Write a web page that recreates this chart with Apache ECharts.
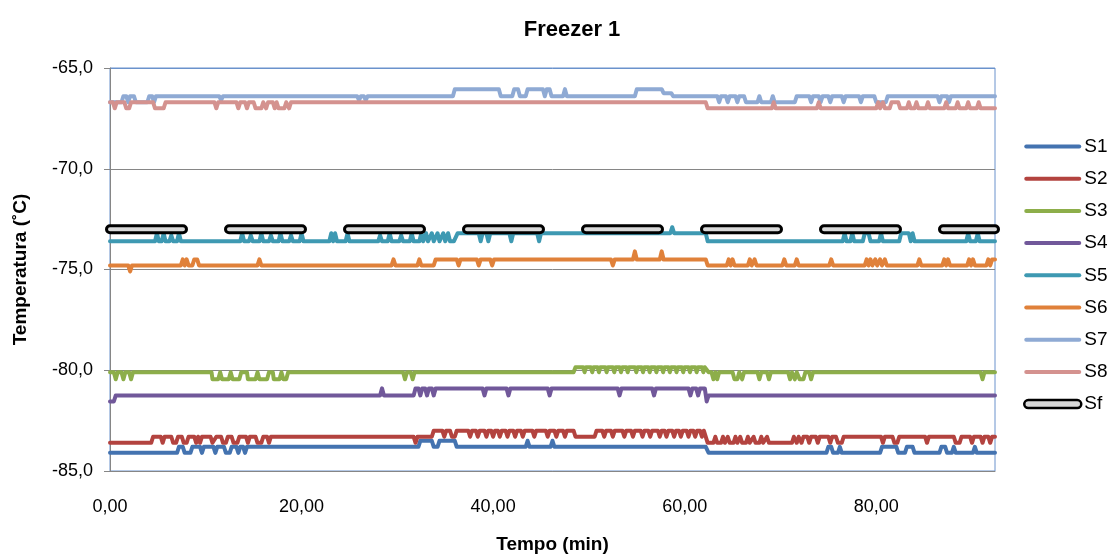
<!DOCTYPE html>
<html><head><meta charset="utf-8">
<script src="https://cdn.jsdelivr.net/npm/echarts@6/dist/echarts.min.js"></script>
<style>html,body{margin:0;padding:0;background:#fff}#c{width:1110px;height:559px}</style>
</head><body><div id="c"></div>
<script>
// ---- data (time in min, temperature in °C) ----
const seriesNames = ['S1','S2','S3','S4','S5','S6','S7','S8','Sf'];
const xTicks = [0,20,40,60,80];
const yTicks = [-85,-80,-75,-70,-65];

const S1 = [[0,-84.1],[7.0,-84.1],[7.2,-83.8],[7.6,-83.8],[7.8,-84.1],[8.4,-84.1],[8.6,-83.8],[9.4,-83.8],[9.6,-84.1],[9.8,-83.8],[10.8,-83.8],[11.0,-84.1],[11.2,-83.8],[11.9,-83.8],[12.1,-84.1],[12.5,-84.1],[12.7,-83.8],[13.2,-83.8],[13.4,-84.1],[13.6,-83.8],[13.9,-83.8],[14.1,-84.1],[14.3,-83.8],
[32.2,-83.8],[32.4,-83.5],[33.6,-83.5],[33.8,-83.8],[34.2,-83.8],[34.4,-83.5],[36.0,-83.5],[36.2,-83.8],[43.4,-83.8],[43.6,-83.5],[43.8,-83.8],[46.0,-83.8],[46.2,-83.5],[46.4,-83.8],[62.2,-83.8],[62.5,-84.1],
[74.8,-84.1],[75.0,-83.8],[75.3,-83.8],[75.5,-84.1],[76.0,-84.1],[76.2,-83.8],[76.4,-84.1],[80.4,-84.1],[80.6,-83.8],[82.1,-83.8],[82.3,-84.1],[83.0,-84.1],[83.2,-83.8],[83.8,-83.8],[84.0,-84.1],[86.6,-84.1],[86.8,-83.8],[87.2,-83.8],[87.4,-84.1],[87.9,-84.1],[88.1,-83.8],[88.3,-84.1],[90.1,-84.1],[90.3,-83.8],[90.5,-84.1],[92.4,-84.1]];

const S2 = [[0,-83.6],[4.3,-83.6],[4.5,-83.3],[5.3,-83.3],[5.5,-83.6],[5.7,-83.3],[6.4,-83.3],[6.6,-83.6],[6.9,-83.6],[7.1,-83.3],[7.5,-83.3],[7.7,-83.6],[8.0,-83.6],[8.2,-83.3],[8.8,-83.3],[9.0,-83.6],[9.2,-83.3],[9.4,-83.6],[9.6,-83.3],[10.5,-83.3],[10.7,-83.6],[10.9,-83.6],[11.1,-83.3],[11.6,-83.3],[11.8,-83.6],[12.1,-83.6],[12.3,-83.3],[12.7,-83.3],[12.9,-83.6],[13.3,-83.6],[13.5,-83.3],[14.2,-83.3],[14.4,-83.6],[14.6,-83.3],[15.2,-83.3],[15.4,-83.6],[15.8,-83.6],[16.0,-83.3],[16.4,-83.3],[16.6,-83.6],[16.8,-83.3],
[31.7,-83.3],[31.9,-83.6],[32.1,-83.3],[33.6,-83.3],[33.8,-83.0],[34.7,-83.0],[34.9,-83.3],[35.1,-83.0],[35.5,-83.0],[35.7,-83.3],[36.0,-83.3],[36.2,-83.0],[37.4,-83.0],[37.6,-83.3],[37.8,-83.0],[38.2,-83.0],[38.4,-83.3],[38.6,-83.0],[39.1,-83.0],[39.3,-83.3],[39.5,-83.0],[39.8,-83.0],[40.0,-83.3],[40.2,-83.0],[40.5,-83.0],[40.7,-83.3],[40.9,-83.0],[41.3,-83.0],[41.5,-83.3],[41.7,-83.0],[42.1,-83.0],[42.3,-83.3],[42.5,-83.0],[42.9,-83.0],[43.1,-83.3],[43.3,-83.0],[44.1,-83.0],[44.3,-83.3],[44.5,-83.0],[45.5,-83.0],[45.7,-83.3],[45.9,-83.0],[46.4,-83.0],[46.6,-83.3],[46.8,-83.0],[47.3,-83.0],[47.5,-83.3],[47.7,-83.0],[48.4,-83.0],[48.6,-83.3],[50.6,-83.3],[50.8,-83.0],[51.4,-83.0],[51.6,-83.3],[51.8,-83.0],[52.3,-83.0],[52.5,-83.3],[52.7,-83.0],[53.5,-83.0],[53.7,-83.3],[53.9,-83.0],[54.4,-83.0],[54.6,-83.3],[54.8,-83.0],[55.4,-83.0],[55.6,-83.3],[55.8,-83.0],[56.2,-83.0],[56.4,-83.3],[56.6,-83.0],[57.2,-83.0],[57.4,-83.3],[57.6,-83.0],[57.9,-83.0],[58.1,-83.3],[58.3,-83.0],[58.7,-83.0],[58.9,-83.3],[59.1,-83.0],[59.4,-83.0],[59.6,-83.3],[59.8,-83.0],[60.2,-83.0],[60.4,-83.3],[60.6,-83.0],[60.9,-83.0],[61.1,-83.3],[61.3,-83.0],[61.6,-83.0],[61.8,-83.3],[62.0,-83.0],[62.2,-83.0],[62.4,-83.6],
[63.0,-83.6],[63.2,-83.3],[63.4,-83.6],[63.8,-83.6],[64.0,-83.3],[64.2,-83.6],[64.5,-83.3],[64.7,-83.6],[65.1,-83.6],[65.3,-83.3],[65.5,-83.6],[65.8,-83.3],[66.0,-83.6],[66.4,-83.6],[66.6,-83.3],[66.8,-83.6],[67.2,-83.3],[67.4,-83.6],[67.8,-83.6],[68.0,-83.3],[68.2,-83.6],[68.6,-83.3],[68.8,-83.6],[71.2,-83.6],[71.4,-83.3],[71.7,-83.6],[71.9,-83.3],[72.2,-83.6],[72.4,-83.3],[72.8,-83.3],[73.0,-83.6],[73.2,-83.3],[73.7,-83.3],[73.9,-83.6],[74.1,-83.3],[75.0,-83.3],[75.2,-83.6],[75.4,-83.3],[75.8,-83.3],[76.0,-83.6],[76.4,-83.6],[76.6,-83.3],[80.5,-83.3],[80.7,-83.6],[80.9,-83.3],[81.7,-83.3],[81.9,-83.6],[82.2,-83.6],[82.4,-83.3],[85.1,-83.3],[85.3,-83.6],[85.5,-83.3],[88.1,-83.3],[88.3,-83.6],[88.7,-83.6],[88.9,-83.3],[89.8,-83.3],[90.0,-83.6],[90.2,-83.3],[90.9,-83.3],[91.1,-83.6],[91.3,-83.3],[91.7,-83.3],[91.9,-83.6],[92.1,-83.3],[92.4,-83.3]];

const S3 = [[0,-80.1],[0.4,-80.1],[0.6,-80.45],[0.8,-80.1],[1.2,-80.1],[1.4,-80.45],[1.6,-80.1],[2.0,-80.1],[2.2,-80.45],[2.4,-80.1],
[10.6,-80.1],[10.7,-80.45],[11.3,-80.45],[11.5,-80.1],[11.7,-80.45],[12.4,-80.45],[12.6,-80.1],[12.8,-80.45],[13.5,-80.45],[13.7,-80.1],[14.3,-80.1],[14.4,-80.45],[15.2,-80.45],[15.4,-80.1],[15.6,-80.45],[16.4,-80.45],[16.6,-80.1],[17.0,-80.1],[17.1,-80.45],[17.7,-80.45],[17.9,-80.1],[18.1,-80.45],[18.4,-80.45],[18.6,-80.1],
[30.6,-80.1],[30.8,-80.45],[31.0,-80.1],[31.4,-80.1],[31.6,-80.45],[31.8,-80.1],
[48.4,-80.1],[48.6,-79.85],[49.4,-79.85],[49.55,-80.1],[49.7,-79.85],[50.2,-79.85],[50.35,-80.1],[50.5,-79.85],[50.9,-79.85],[51.05,-80.1],[51.2,-79.85],[51.7,-79.85],[51.85,-80.1],[52.0,-79.85],[52.5,-79.85],[52.65,-80.1],[52.8,-79.85],[53.2,-79.85],[53.35,-80.1],[53.5,-79.85],[53.9,-79.85],[54.05,-80.1],[54.2,-79.85],[54.8,-79.85],[54.95,-80.1],[55.1,-79.85],[55.5,-79.85],[55.65,-80.1],[55.8,-79.85],[56.2,-79.85],[56.35,-80.1],[56.5,-79.85],[56.9,-79.85],[57.05,-80.1],[57.2,-79.85],[57.6,-79.85],[57.75,-80.1],[57.9,-79.85],[58.3,-79.85],[58.45,-80.1],[58.6,-79.85],[59.0,-79.85],[59.15,-80.1],[59.3,-79.85],[59.7,-79.85],[59.85,-80.1],[60.0,-79.85],[60.4,-79.85],[60.55,-80.1],[60.7,-79.85],[61.1,-79.85],[61.25,-80.1],[61.4,-79.85],[61.8,-79.85],[61.95,-80.1],[62.1,-79.85],
[62.3,-79.85],[62.5,-80.1],[62.8,-80.1],[63.0,-80.45],[63.2,-80.1],[63.4,-80.45],[63.6,-80.1],[65.0,-80.1],[65.2,-80.45],[65.5,-80.45],[65.7,-80.1],[66.0,-80.45],[66.2,-80.1],[67.6,-80.1],[67.8,-80.45],[68.0,-80.1],[68.6,-80.1],[68.8,-80.45],[69.0,-80.1],[70.8,-80.1],[71.0,-80.45],[71.2,-80.1],[71.5,-80.45],[71.7,-80.1],[72.0,-80.45],[72.4,-80.45],[72.6,-80.1],[73.0,-80.1],[73.2,-80.45],[73.4,-80.1],[90.9,-80.1],[91.1,-80.45],[91.3,-80.1],[92.4,-80.1]];

const S4 = [[0,-81.55],[0.4,-81.55],[0.6,-81.25],[28.2,-81.25],[28.4,-80.9],[28.6,-81.25],[31.7,-81.25],[31.9,-80.9],[32.2,-80.9],[32.4,-81.25],[32.6,-80.9],[32.9,-80.9],[33.1,-81.25],[33.3,-80.9],[33.6,-80.9],[33.8,-81.25],[34.0,-80.9],[38.9,-80.9],[39.1,-81.25],[39.3,-80.9],[41.4,-80.9],[41.6,-81.25],[41.8,-80.9],[45.7,-80.9],[45.9,-81.25],[46.1,-80.9],[53.0,-80.9],[53.2,-81.25],[53.4,-80.9],[56.6,-80.9],[56.8,-81.25],[57.0,-80.9],[60.4,-80.9],[60.6,-81.25],[60.8,-80.9],[61.2,-80.9],[61.4,-81.25],[61.6,-80.9],[62.1,-80.9],[62.3,-81.55],[62.5,-81.25],[92.4,-81.25]];

const S5 = [[0,-73.6],[4.7,-73.6],[4.9,-73.2],[5.1,-73.6],[5.4,-73.6],[5.6,-73.2],[5.8,-73.6],[6.2,-73.6],[6.4,-73.3],[6.6,-73.6],[7.0,-73.6],[7.2,-73.2],[7.4,-73.6],[13.6,-73.6],[13.8,-73.2],[14.0,-73.6],[14.5,-73.6],[14.7,-73.3],[14.9,-73.6],[15.6,-73.6],[15.8,-73.2],[16.0,-73.6],[16.6,-73.6],[16.8,-73.3],[17.0,-73.6],[17.6,-73.6],[17.8,-73.2],[18.0,-73.6],[18.7,-73.6],[18.9,-73.3],[19.1,-73.6],[19.8,-73.6],[20.0,-73.2],[20.2,-73.6],[22.9,-73.6],[23.1,-73.2],[23.3,-73.6],[23.5,-73.2],[23.7,-73.6],[24.6,-73.6],[24.8,-73.2],[25.0,-73.6],[28.0,-73.6],[28.2,-73.3],[28.4,-73.6],[29.0,-73.6],[29.2,-73.2],[29.4,-73.6],[30.2,-73.6],[30.4,-73.3],[30.6,-73.6],[31.3,-73.6],[31.5,-73.2],[31.7,-73.6],[32.3,-73.6],[32.5,-73.2],[32.7,-73.6],[33.0,-73.2],[33.2,-73.6],[33.6,-73.2],[33.8,-73.6],[34.2,-73.2],[34.4,-73.6],[34.8,-73.2],[35.0,-73.6],[35.3,-73.2],[35.5,-73.6],[35.9,-73.6],[36.3,-73.2],[38.5,-73.2],[38.7,-73.6],[38.9,-73.2],[39.3,-73.2],[39.5,-73.6],[39.7,-73.2],[41.7,-73.2],[41.9,-73.6],[42.1,-73.2],[44.6,-73.2],[44.8,-73.6],[45.0,-73.2],[58.5,-73.2],[58.7,-72.9],[58.9,-73.2],[62.2,-73.2],[62.4,-73.6],[76.5,-73.6],[76.7,-73.2],[76.9,-73.6],[77.3,-73.6],[77.5,-73.2],[77.7,-73.6],[78.6,-73.6],[78.8,-73.2],[79.2,-73.2],[79.4,-73.6],[80.3,-73.6],[80.5,-73.2],[80.7,-73.6],[82.4,-73.6],[82.6,-73.2],[83.4,-73.2],[83.6,-73.6],[83.8,-73.2],[84.0,-73.6],[89.4,-73.6],[89.6,-73.2],[89.8,-73.6],[90.4,-73.6],[90.6,-73.2],[90.8,-73.6],[92.4,-73.6]];

const S6 = [[0,-74.8],[1.9,-74.8],[2.1,-75.1],[2.3,-74.8],[7.4,-74.8],[7.6,-74.5],[7.8,-74.8],[8.0,-74.5],[8.2,-74.8],[8.6,-74.8],[8.8,-74.5],[9.1,-74.5],[9.3,-74.8],[15.4,-74.8],[15.6,-74.5],[15.8,-74.8],[29.4,-74.8],[29.6,-74.5],[29.8,-74.8],[32.1,-74.8],[32.3,-74.5],[32.5,-74.8],[33.8,-74.8],[34.0,-74.5],[36.2,-74.5],[36.4,-74.8],[36.6,-74.5],[38.3,-74.5],[38.5,-74.8],[38.7,-74.5],[39.7,-74.5],[39.9,-74.8],[40.1,-74.5],[52.3,-74.5],[52.5,-74.8],[52.7,-74.5],[54.6,-74.5],[54.8,-74.1],[55.0,-74.5],[57.4,-74.5],[57.6,-74.1],[57.8,-74.5],[62.2,-74.5],[62.4,-74.8],[64.4,-74.8],[64.6,-74.5],[64.8,-74.8],[65.0,-74.5],[65.2,-74.8],[66.6,-74.8],[66.8,-74.5],[67.0,-74.8],[67.3,-74.5],[67.5,-74.8],[70.2,-74.8],[70.4,-74.5],[70.6,-74.8],[71.5,-74.8],[71.7,-74.5],[71.9,-74.8],[75.1,-74.8],[75.3,-74.5],[75.5,-74.8],[78.8,-74.8],[79.0,-74.5],[79.2,-74.8],[79.4,-74.5],[79.6,-74.8],[79.9,-74.5],[80.1,-74.8],[80.4,-74.5],[80.6,-74.8],[80.9,-74.5],[81.1,-74.8],[84.3,-74.8],[84.5,-74.5],[84.7,-74.8],[86.9,-74.8],[87.1,-74.5],[87.3,-74.8],[87.5,-74.5],[87.7,-74.8],[89.5,-74.8],[89.7,-74.5],[89.9,-74.8],[90.1,-74.5],[90.3,-74.8],[91.5,-74.8],[91.7,-74.5],[91.9,-74.8],[92.1,-74.5],[92.4,-74.5]];

const S7 = [[0,-66.7],[1.2,-66.7],[1.4,-66.4],[1.7,-66.4],[1.9,-66.7],[2.1,-66.4],[2.5,-66.4],[2.7,-66.7],[3.9,-66.7],[4.1,-66.4],[4.4,-66.4],[4.6,-66.7],[4.8,-66.4],[11.4,-66.4],[11.6,-66.6],[11.8,-66.4],[25.8,-66.4],[26.0,-66.6],[26.2,-66.4],[26.5,-66.4],[26.7,-66.6],[26.9,-66.4],[35.8,-66.4],[36.0,-66.05],[40.6,-66.05],[40.8,-66.4],[42.0,-66.4],[42.2,-66.05],[42.6,-66.05],[42.8,-66.4],[43.4,-66.4],[43.6,-66.05],[45.2,-66.05],[45.4,-66.4],[45.6,-66.05],[45.9,-66.05],[46.1,-66.4],[47.3,-66.4],[47.5,-66.05],[47.7,-66.4],[54.8,-66.4],[55.0,-66.05],[57.6,-66.05],[57.8,-66.25],[58.6,-66.25],[58.8,-66.4],[63.4,-66.4],[63.6,-66.7],[63.8,-66.4],[64.3,-66.4],[64.5,-66.7],[64.7,-66.4],[65.3,-66.4],[65.5,-66.7],[65.7,-66.4],[66.2,-66.4],[66.4,-66.7],[67.6,-66.7],[67.8,-66.4],[68.0,-66.7],[69.0,-66.7],[69.2,-66.4],[69.4,-66.7],[71.5,-66.7],[71.7,-66.4],[73.0,-66.4],[73.2,-66.7],[73.4,-66.4],[74.0,-66.4],[74.2,-66.7],[74.4,-66.4],[75.0,-66.4],[75.2,-66.7],[75.4,-66.4],[76.4,-66.4],[76.6,-66.7],[76.8,-66.4],[78.2,-66.4],[78.4,-66.7],[78.6,-66.4],[79.8,-66.4],[80.0,-66.7],[81.0,-66.7],[81.2,-66.4],[86.4,-66.4],[86.6,-66.7],[86.8,-66.4],[87.4,-66.4],[87.6,-66.7],[87.8,-66.4],[92.4,-66.4]];

const S8 = [[0,-66.7],[0.3,-66.7],[0.5,-67.0],[0.7,-66.7],[1.5,-66.7],[1.7,-67.0],[2.0,-67.0],[2.2,-66.7],[4.5,-66.7],[4.7,-67.0],[5.6,-67.0],[5.8,-66.7],[10.9,-66.7],[11.1,-67.0],[11.3,-66.7],[13.2,-66.7],[13.4,-67.0],[13.6,-66.7],[14.1,-66.7],[14.3,-67.0],[14.5,-66.7],[15.0,-66.7],[15.2,-67.0],[15.8,-67.0],[16.0,-66.7],[16.3,-67.0],[16.5,-66.7],[17.0,-66.7],[17.2,-67.0],[17.4,-66.7],[17.6,-67.0],[18.2,-67.0],[18.4,-66.7],[18.7,-67.0],[18.9,-66.7],[62.2,-66.7],[62.4,-67.0],[69.1,-67.0],[69.3,-66.7],[69.5,-67.0],[73.8,-67.0],[74.0,-66.7],[74.2,-67.0],[80.0,-67.0],[80.2,-66.7],[80.4,-67.0],[80.7,-66.7],[80.9,-67.0],[81.4,-67.0],[81.6,-66.7],[82.3,-66.7],[82.5,-67.0],[83.2,-67.0],[83.4,-66.7],[83.6,-67.0],[84.0,-67.0],[84.2,-66.7],[84.4,-67.0],[85.2,-67.0],[85.4,-66.7],[85.6,-67.0],[87.1,-67.0],[87.3,-66.7],[87.5,-67.0],[88.3,-67.0],[88.5,-66.7],[88.7,-67.0],[89.4,-67.0],[89.6,-66.7],[89.8,-67.0],[90.5,-67.0],[90.7,-66.7],[90.9,-67.0],[92.4,-67.0]];

const Sf = [[0,-73.0],[92.4,-73.0]];

const seriesData = [S1,S2,S3,S4,S5,S6,S7,S8];
const colors = ['#4473B0','#B3433F','#8DAE4A','#71589A','#3E99B2','#E0813A','#8FAAD4','#D4928F'];

const FONT = 'Liberation Sans, Arial, sans-serif';
const fmtComma = (v, d) => v.toFixed(d).replace('.', ',');

const series = seriesData.map((d, i) => ({
  name: seriesNames[i], type: 'line', data: d, symbol: 'none', showSymbol: false,
  color: colors[i],
  lineStyle: { color: colors[i], width: 4, cap: 'round', join: 'round' },
  animation: false, silent: true, z: 2 + i * 0.01
}));
series.push({
  name: 'Sf', type: 'line', data: Sf, symbol: 'none', color: '#000',
  lineStyle: { color: '#000', width: 10, type: [73, 46], cap: 'round' },
  animation: false, silent: true, z: 3
});
series.push({
  name: 'Sf', type: 'line', data: Sf, symbol: 'none', color: '#000',
  lineStyle: { color: '#d8d8d8', width: 4, type: [73, 46], cap: 'round' },
  animation: false, silent: true, z: 3.1
});

const LINE_ICON = 'path://M2,0 L55,0 A2,2 0 0 1 55,4 L2,4 A2,2 0 0 1 2,0 Z';
const PILL_ICON = 'path://M4,0 L53,0 A4,4 0 0 1 53,8 L4,8 A4,4 0 0 1 4,0 Z';
const legendData = seriesNames.map((n, i) => n === 'Sf'
  ? { name: n, icon: PILL_ICON, itemStyle: { color: '#d8d8d8', borderColor: '#000', borderWidth: 2.5 } }
  : { name: n, icon: LINE_ICON, itemStyle: { color: colors[i], borderWidth: 0 } });

const chart = echarts.init(document.getElementById('c'), null, { renderer: 'canvas' });
chart.setOption({
  animation: false,
  backgroundColor: '#fff',
  title: { text: 'Freezer 1', left: 567, top: 14, textAlign: 'center',
    textStyle: { fontFamily: FONT, fontSize: 22, fontWeight: 'bold', color: '#000' } },
  grid: { left: 110, right: 115, top: 68, bottom: 86, show: true, borderColor: '#6a92cc', borderWidth: 1, backgroundColor: 'transparent' },
  legend: {
    orient: 'vertical', left: 1023, top: 137, padding: 0, itemWidth: 57, itemHeight: 14, itemGap: 13.2,
    data: legendData,
    textStyle: { fontFamily: FONT, fontSize: 19, color: '#000', padding: [0, 0, 0, -2] },
    selectedMode: false
  },
  xAxis: {
    type: 'value', min: 0, max: 92.4, interval: 20,
    name: 'Tempo (min)', nameLocation: 'middle', nameGap: 64,
    nameTextStyle: { fontFamily: FONT, fontSize: 19, fontWeight: 'bold', color: '#000' },
    axisLine: { show: true, lineStyle: { color: '#868686', width: 1 } },
    axisTick: { show: false },
    splitLine: { show: false },
    axisLabel: { fontFamily: FONT, fontSize: 18, color: '#000', margin: 27, showMaxLabel: false,
      formatter: v => xTicks.includes(v) ? fmtComma(v, 2) : '' }
  },
  yAxis: {
    type: 'value', min: -85, max: -65, interval: 5,
    name: 'Temperatura (˚C)', nameLocation: 'middle', nameGap: 80, nameRotate: 90,
    nameTextStyle: { fontFamily: FONT, fontSize: 19, fontWeight: 'bold', color: '#000' },
    axisLine: { show: true, lineStyle: { color: '#868686', width: 1 } },
    axisTick: { show: true, inside: false, length: 6, lineStyle: { color: '#868686' } },
    splitLine: { show: true, lineStyle: { color: ['#868686','#868686','#868686','#868686','#6a92cc'], width: 1 } },
    axisLabel: { fontFamily: FONT, fontSize: 18, color: '#000', margin: 17,
      formatter: v => yTicks.includes(v) ? fmtComma(v, 1) : '' }
  },
  series: series
});
</script></body></html>
